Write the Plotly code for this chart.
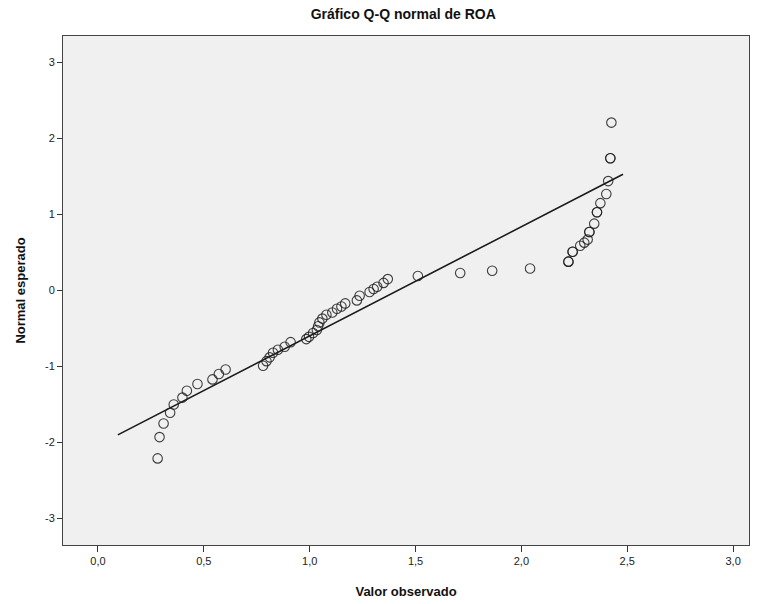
import plotly.graph_objects as go

obs_x = [0.282, 0.291, 0.310, 0.341, 0.358, 0.399, 0.420, 0.470, 0.541, 0.571, 0.603,
         0.780, 0.796, 0.811, 0.827, 0.850, 0.882, 0.910, 0.984, 0.997, 1.016, 1.034, 1.040, 1.046, 1.060,
         1.079, 1.107, 1.129, 1.150, 1.168, 1.223, 1.236, 1.283, 1.302, 1.319, 1.349, 1.369,
         1.511, 1.711, 1.862, 2.041,
         2.222, 2.222, 2.242, 2.242, 2.278, 2.297, 2.313, 2.321, 2.321, 2.344, 2.357, 2.357,
         2.373, 2.401, 2.410, 2.420, 2.420, 2.425]
exp_y = [-2.21, -1.93, -1.75, -1.61, -1.50, -1.41, -1.32, -1.23, -1.17, -1.10, -1.04,
         -0.99, -0.93, -0.88, -0.82, -0.78, -0.74, -0.68, -0.64, -0.61, -0.56, -0.52, -0.47, -0.42, -0.37,
         -0.32, -0.29, -0.24, -0.21, -0.17, -0.13, -0.07, -0.02, 0.02, 0.05, 0.10, 0.15,
         0.19, 0.23, 0.26, 0.29,
         0.38, 0.38, 0.51, 0.51, 0.59, 0.63, 0.67, 0.77, 0.77, 0.88, 1.03, 1.03,
         1.15, 1.27, 1.44, 1.74, 1.74, 2.21]

# Reference line endpoints
line_x = [0.094, 2.48]
line_y = [-1.90, 1.53]

x_tickvals = [0.0, 0.5, 1.0, 1.5, 2.0, 2.5, 3.0]
x_ticktext = ["0,0", "0,5", "1,0", "1,5", "2,0", "2,5", "3,0"]
y_tickvals = [-3, -2, -1, 0, 1, 2, 3]
y_ticktext = ["-3", "-2", "-1", "0", "1", "2", "3"]

FONT = "Liberation Sans, Arial, sans-serif"

fig = go.Figure()
fig.add_trace(go.Scatter(x=line_x, y=line_y, mode="lines",
                         line=dict(color="#1a1a1a", width=1.6), hoverinfo="skip"))
fig.add_trace(go.Scatter(x=obs_x, y=exp_y, mode="markers",
                         marker=dict(symbol="circle-open", size=9.5,
                                     color="rgba(30,30,30,0.85)",
                                     line=dict(width=1.1))))

fig.update_layout(
    width=758, height=604,
    margin=dict(l=63, r=8, t=36, b=57),
    paper_bgcolor="white", plot_bgcolor="#F0F0F0",
    showlegend=False,
    title=dict(text="<b>Gráfico Q-Q normal de ROA</b>", x=0.532, xanchor="center",
               y=0.977, yanchor="middle",
               font=dict(family=FONT, size=14, color="#111111")),
    font=dict(family=FONT, size=11, color="#222222"),
)
fig.update_xaxes(range=[-0.165, 3.075], tickvals=x_tickvals, ticktext=x_ticktext,
                 ticks="outside", ticklen=6, tickwidth=1, tickcolor="#333333",
                 showgrid=False, zeroline=False,
                 showline=True, linecolor="#444444", linewidth=1, mirror=True,
                 title=dict(text="<b>Valor observado</b>", standoff=20,
                            font=dict(family=FONT, size=13, color="#111111")),
                 tickfont=dict(size=11))
fig.update_yaxes(range=[-3.35, 3.35], tickvals=y_tickvals, ticktext=y_ticktext,
                 ticks="outside", ticklen=5, tickwidth=1, tickcolor="#333333",
                 showgrid=False, zeroline=False,
                 showline=True, linecolor="#444444", linewidth=1, mirror=True,
                 title=dict(text="<b>Normal esperado</b>", standoff=16,
                            font=dict(family=FONT, size=13, color="#111111")),
                 tickfont=dict(size=11))

fig.write_html("out.html")
